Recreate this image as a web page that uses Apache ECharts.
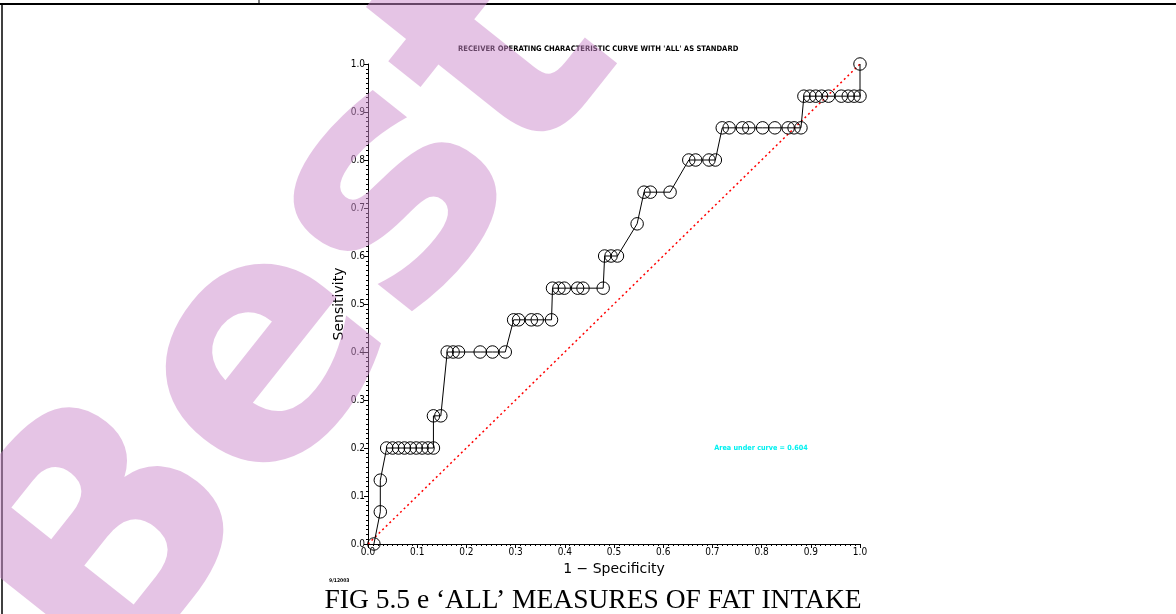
<!DOCTYPE html>
<html>
<head>
<meta charset="utf-8">
<script src="https://cdn.jsdelivr.net/npm/echarts@6/dist/echarts.min.js"></script>
<style>
html, body { margin: 0; padding: 0; background: #fff; }
#chart { width: 1176px; height: 614px; }
</style>
</head>
<body>
<div id="chart"></div>
<script>
// ROC-Punkte (1 - Spezifitaet / Sensitivitaet)
var fpr = [0.012, 0.025, 0.025,
	0.038, 0.050, 0.062, 0.074, 0.086, 0.098, 0.110, 0.122, 0.133,
	0.133, 0.148,
	0.161, 0.173, 0.184, 0.228, 0.253, 0.279,
	0.296, 0.306, 0.332, 0.344, 0.373,
	0.375, 0.388, 0.399, 0.426, 0.437, 0.478,
	0.481, 0.494, 0.507,
	0.547,
	0.561, 0.574, 0.614,
	0.652, 0.666, 0.693, 0.706,
	0.720, 0.734, 0.761, 0.774, 0.802, 0.827, 0.854, 0.866, 0.880,
	0.886, 0.898, 0.910, 0.922, 0.936, 0.962, 0.976, 0.988, 1.0,
	1.0];
var tpr = [0, 0.067, 0.133,
	0.2, 0.2, 0.2, 0.2, 0.2, 0.2, 0.2, 0.2, 0.2,
	0.267, 0.267,
	0.4, 0.4, 0.4, 0.4, 0.4, 0.4,
	0.467, 0.467, 0.467, 0.467, 0.467,
	0.533, 0.533, 0.533, 0.533, 0.533, 0.533,
	0.6, 0.6, 0.6,
	0.667,
	0.733, 0.733, 0.733,
	0.8, 0.8, 0.8, 0.8,
	0.867, 0.867, 0.867, 0.867, 0.867, 0.867, 0.867, 0.867, 0.867,
	0.933, 0.933, 0.933, 0.933, 0.933, 0.933, 0.933, 0.933, 0.933,
	1.0];
var diagonal = [[0, 0], [1, 1]];	// Zufallslinie
var titleText = "RECEIVER OPERATING CHARACTERISTIC CURVE WITH 'ALL' AS STANDARD";
var aucText = "Area under curve = 0.604";
var captionText = "FIG 5.5 e \u2018ALL\u2019 MEASURES OF FAT INTAKE";
var dateText = "9/12003";

var rocData = fpr.map(function (x, i) { return [x, tpr[i]]; });

var chart = echarts.init(document.getElementById('chart'), null, {renderer: 'canvas'});

function axis(name, gap, rot) {
	return {
		type: 'value',
		min: 0,
		max: 1,
		interval: 0.1,
		name: name,
		nameLocation: 'middle',
		nameGap: gap,
		nameRotate: rot,
		nameTextStyle: { color: '#000', fontSize: 14, fontFamily: 'DejaVu Sans' },
		axisLine: { show: true, onZero: false, lineStyle: { color: '#000', width: 1 } },
		axisTick: { show: true, length: 4, lineStyle: { color: '#000' } },
		minorTick: { show: true, splitNumber: 10, length: 2, lineStyle: { color: '#000' } },
		splitLine: { show: false },
		axisLabel: {
			color: '#000',
			fontSize: 10,
			fontFamily: 'DejaVu Sans Condensed',
			margin: 3,
			formatter: function (v) { return v.toFixed(1); }
		}
	};
}

chart.setOption({
	animation: false,
	backgroundColor: '#fff',
	title: {
		text: titleText,
		left: 453,
		top: 40,
		textStyle: { fontSize: 7.6, fontWeight: 'bold', color: '#000', fontFamily: 'DejaVu Sans Condensed' }
	},
	grid: { left: 368, right: 316, top: 64, bottom: 70 },
	xAxis: axis('1 \u2212 Specificity', 16, 0),
	yAxis: axis('Sensitivity', 22, 90),
	series: [
		{
			type: 'line',
			data: diagonal,
			symbol: 'none',
			lineStyle: { color: '#ff0000', width: 1.5, type: [2, 3] },
			z: 1
		},
		{
			type: 'line',
			data: rocData,
			symbol: 'circle',
			symbolSize: 12.5,
			itemStyle: { color: 'rgba(0,0,0,0)', borderColor: '#000', borderWidth: 1 },
			lineStyle: { color: '#000', width: 1 },
			z: 2
		}
	],
	graphic: [
		// Rahmen der Tabelle
		{ type: 'line', shape: { x1: 0, y1: 4, x2: 1176, y2: 4 }, style: { stroke: '#000', lineWidth: 2 } },
		{ type: 'line', shape: { x1: 2, y1: 4, x2: 2, y2: 614 }, style: { stroke: '#000', lineWidth: 1.5 } },
		{ type: 'line', shape: { x1: 259, y1: 0, x2: 259, y2: 4 }, style: { stroke: '#000', lineWidth: 1 } },
		{
			type: 'text', x: 761, y: 448,
			style: { text: aucText, fill: '#00f0f0', font: 'bold 7.2px "DejaVu Sans Condensed"', align: 'center', verticalAlign: 'middle' }
		},
		{
			type: 'text', x: 329, y: 581,
			style: { text: dateText, fill: '#000', font: 'bold 5px "DejaVu Sans Condensed"', verticalAlign: 'middle' }
		},
		{
			type: 'text', x: 593, y: 601,
			style: { text: captionText, fill: '#000', font: '27.5px "Liberation Serif"', align: 'center', verticalAlign: 'middle' }
		},
		// Wasserzeichen
		{
			type: 'text', x: 300, y: 325, rotation: 0.9, z: 100,
			style: { text: 'Best', fill: 'rgba(203,137,203,0.5)', font: 'bold 330px "DejaVu Sans"', align: 'center', verticalAlign: 'middle' }
		}
	]
});
</script>
</body>
</html>
